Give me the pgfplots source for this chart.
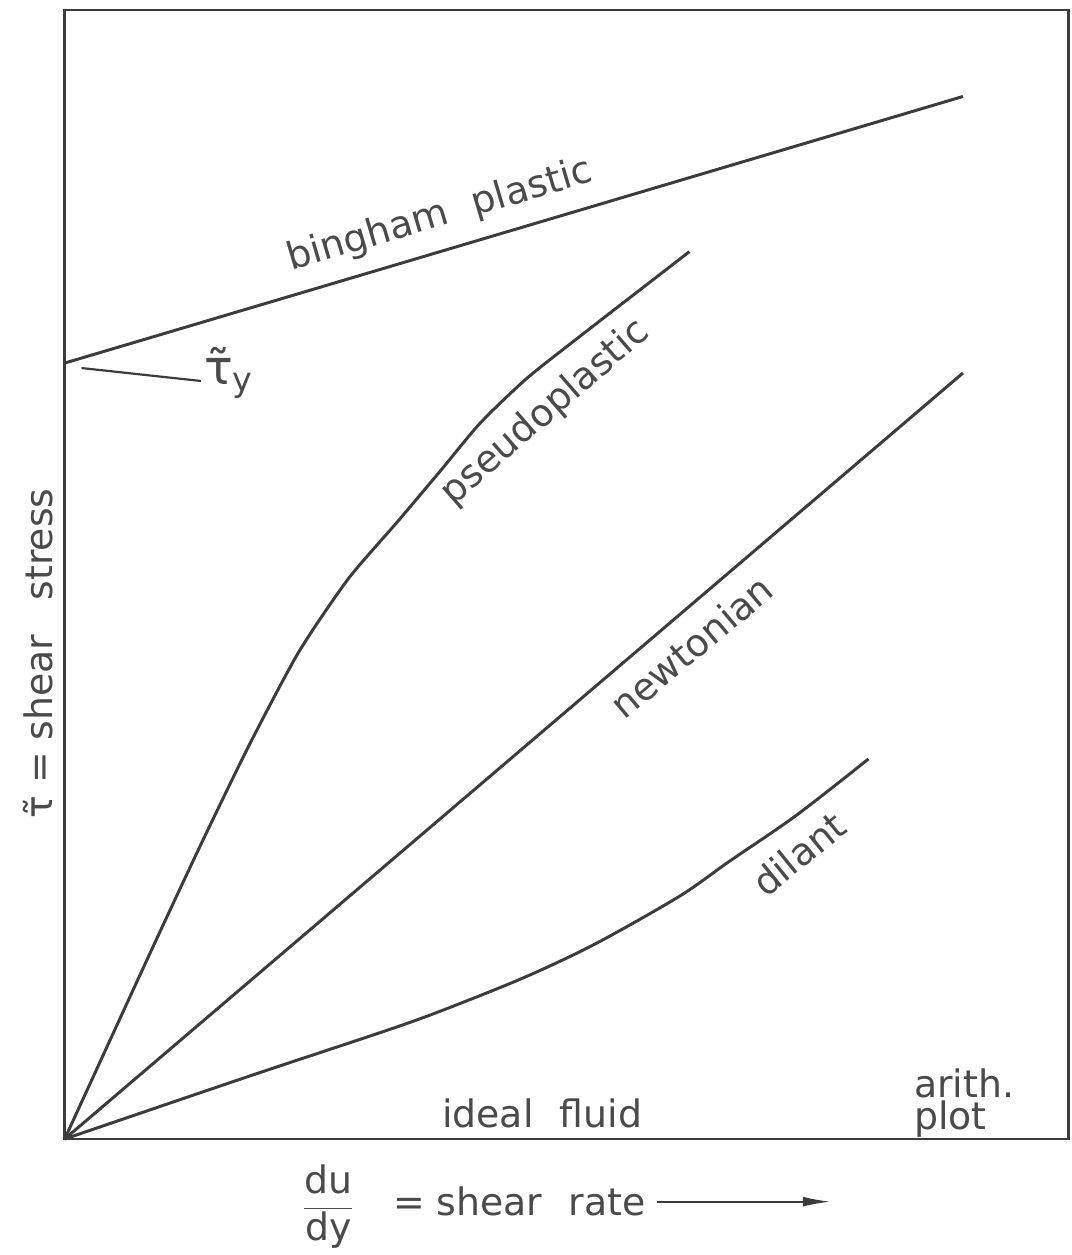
\documentclass[border=0pt]{standalone}
\usepackage{fontspec}
\setmainfont{DejaVu Sans}
\usepackage{pgfplots}
\pgfplotsset{compat=1.18}
\usetikzlibrary{arrows.meta}
\definecolor{ink}{HTML}{3C3C3C}
\definecolor{txt}{HTML}{4A4A4A}
\begin{document}
\begin{tikzpicture}
\begin{axis}[
  anchor=origin, at={(0,0)},
  scale only axis,
  width=504.5pt, height=567.5pt,
  xmin=65, xmax=1074, ymin=0, ymax=1135,
  ticks=none,
  axis line style={ink, line width=1.3pt},
  clip=false,
]
% invisible frame for page size
\path (axis cs:0,-110) rectangle (axis cs:1077,1145);
% bingham plastic
\addplot[ink, line width=1.5pt, no markers] coordinates {(65,780) (968,1048)};
% newtonian
\addplot[ink, line width=1.5pt, no markers] coordinates {(65,0) (968,770)};
% pseudoplastic
\addplot[ink, line width=1.5pt, no markers, smooth, tension=0.4] coordinates {(65,0) (150,185) (200,292) (250,395) (300,489) (350,563) (400,621) (443,672) (483,720) (530,765) (587,810) (693,892)};
% dilatant
\addplot[ink, line width=1.5pt, no markers, smooth, tension=0.5] coordinates {(65,0) (250,63) (400,113) (467,138) (533,165) (600,197) (683,244) (733,279) (800,325) (873,382)};
% tau_y leader
\draw[ink, line width=1.1pt] (axis cs:82,775) -- (axis cs:202,762);
\node[txt, font=\fontsize{24}{26}\selectfont] at (axis cs:230,770) {τ̃\textsubscript{y}};
% labels
\begin{scope}[every node/.style={txt, font=\fontsize{19}{22}\selectfont}]
\node[rotate=16.5] at (axis cs:442,928) {bingham\hspace{0.7em}plastic};
\node[rotate=41] at (axis cs:548,730) {pseudoplastic};
\node[rotate=40] at (axis cs:695,495) {newtonian};
\node[rotate=39] at (axis cs:803,287) {dilant};
\node at (axis cs:545,26) {ideal\hspace{0.7em}fluid};
\node[anchor=west] at (axis cs:912,56) {arith.};
\node[anchor=west] at (axis cs:912,20) {plot};
\node[rotate=90] at (axis cs:38,488) {τ̃ = shear\hspace{0.9em}stress};
\node at (axis cs:330,-68) {$\displaystyle\frac{\hbox{du}}{\hbox{dy}}$};
\node[anchor=west] at (axis cs:388,-63) {= shear\hspace{0.7em}rate};
\end{scope}
\draw[ink, line width=1pt, -{Latex[length=14pt, width=5pt]}] (axis cs:660,-63) -- (axis cs:835,-63);
\end{axis}
\end{tikzpicture}
\end{document}
